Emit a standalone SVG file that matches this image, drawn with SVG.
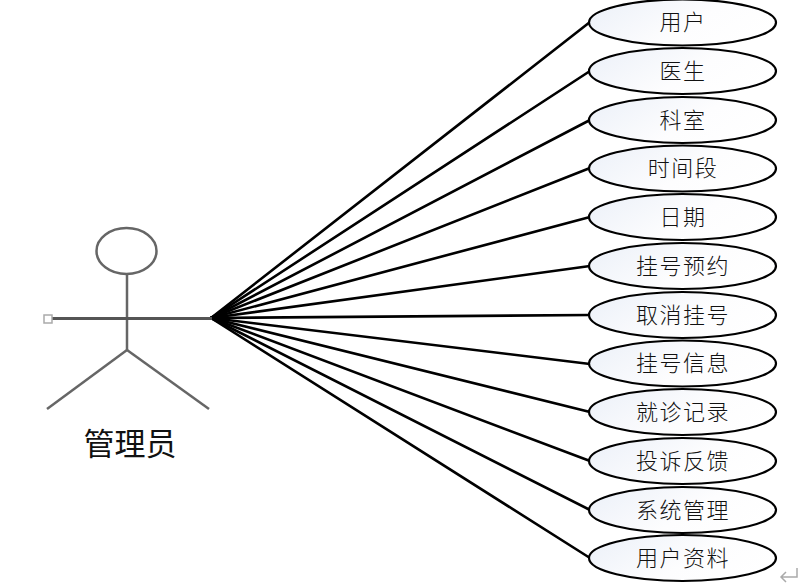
<svg xmlns="http://www.w3.org/2000/svg" width="806" height="588" viewBox="0 0 806 588">
<style>
.n ellipse{fill:url(#g);stroke:#000;stroke-width:2.2}
.n text{font-family:"Noto Sans CJK SC","Noto Sans CJK JP",sans-serif;font-size:22px;letter-spacing:1.500px;text-anchor:middle;fill:#111;font-weight:300}
#connectors line{stroke:#000;stroke-width:2.600;stroke-linecap:round}
#actor .s{stroke:#666;fill:none;stroke-width:2.500}
#actor .arm{stroke:#555;stroke-width:3.200}
</style>
<defs><linearGradient id="g" x1="0" y1="0.3" x2="1" y2="0.7"><stop offset="0" stop-color="#eef2f9"/><stop offset="0.55" stop-color="#fdfdfe"/><stop offset="1" stop-color="#fff"/></linearGradient></defs>
<rect width="806" height="588" fill="#fff"/>
<g id="connectors">
<line x1="211" y1="318" x2="590" y2="22"/>
<line x1="211" y1="318" x2="590" y2="71"/>
<line x1="211" y1="318" x2="590" y2="120"/>
<line x1="211" y1="318" x2="590" y2="168"/>
<line x1="211" y1="318" x2="590" y2="217"/>
<line x1="211" y1="318" x2="590" y2="266"/>
<line x1="211" y1="318" x2="590" y2="315"/>
<line x1="211" y1="318" x2="590" y2="364"/>
<line x1="211" y1="318" x2="590" y2="412"/>
<line x1="211" y1="318" x2="590" y2="461"/>
<line x1="211" y1="318" x2="590" y2="510"/>
<line x1="211" y1="318" x2="590" y2="558"/>
</g>
<g id="actor">
<ellipse class="s" cx="126.500" cy="251" rx="30" ry="23"/>
<line class="s" x1="127" y1="274" x2="127" y2="350"/>
<line class="s arm" x1="52" y1="318.500" x2="212" y2="318.500"/>
<line class="s" x1="127" y1="350" x2="47" y2="409"/>
<line class="s" x1="127" y1="350" x2="209" y2="409"/>
<rect x="44" y="315" width="8" height="8" fill="#fff" stroke="#aaa" stroke-width="1.500"/>
<text x="130" y="455" font-family="Noto Sans CJK SC,sans-serif" font-size="31" text-anchor="middle" fill="#111">管理员</text>
</g>
<g id="n1" class="n"><ellipse cx="682.500" cy="22.500" rx="93.500" ry="23"/><text x="683" y="30">用户</text></g>
<g id="n2" class="n"><ellipse cx="682.500" cy="71" rx="93.500" ry="23"/><text x="683" y="78.500">医生</text></g>
<g id="n3" class="n"><ellipse cx="682.500" cy="120" rx="93.500" ry="23"/><text x="683" y="127.500">科室</text></g>
<g id="n4" class="n"><ellipse cx="682.500" cy="168.500" rx="93.500" ry="23"/><text x="683" y="176">时间段</text></g>
<g id="n5" class="n"><ellipse cx="682.500" cy="217" rx="93.500" ry="23"/><text x="683" y="224.500">日期</text></g>
<g id="n6" class="n"><ellipse cx="682.500" cy="266" rx="93.500" ry="23"/><text x="683" y="273.500">挂号预约</text></g>
<g id="n7" class="n"><ellipse cx="682.500" cy="315" rx="93.500" ry="23"/><text x="683" y="322.500">取消挂号</text></g>
<g id="n8" class="n"><ellipse cx="682.500" cy="363.500" rx="93.500" ry="23"/><text x="683" y="371">挂号信息</text></g>
<g id="n9" class="n"><ellipse cx="682.500" cy="412" rx="93.500" ry="23"/><text x="683" y="419.500">就诊记录</text></g>
<g id="n10" class="n"><ellipse cx="682.500" cy="461" rx="93.500" ry="23"/><text x="683" y="468.500">投诉反馈</text></g>
<g id="n11" class="n"><ellipse cx="682.500" cy="510" rx="93.500" ry="23"/><text x="683" y="517.500">系统管理</text></g>
<g id="n12" class="n"><ellipse cx="682.500" cy="558" rx="93.500" ry="23"/><text x="683" y="565.500">用户资料</text></g>
<path d="M797 568V577H781M786 572L781 577L786 582" fill="none" stroke="#aaa" stroke-width="1.500"/>
</svg>
